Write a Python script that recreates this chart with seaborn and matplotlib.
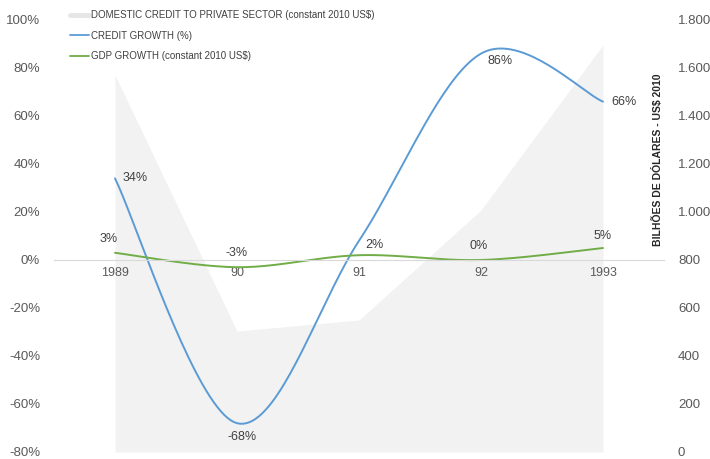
import numpy as np
import matplotlib.pyplot as plt
import seaborn as sns
from matplotlib.lines import Line2D
from matplotlib.ticker import FuncFormatter

# values
years = ["1989", "90", "91", "92", "1993"]
credit_stock = [1571, 504, 550, 1008, 1696]   # bilhões US$ 2010 (right axis)
credit_growth = [34, -68, 8, 86, 66]          # %
gdp_growth = [3, -3, 2, 0, 5]                 # %
credit_labels = ["34%", "-68%", "", "86%", "66%"]
gdp_labels = ["3%", "-3%", "2%", "0%", "5%"]

# label offsets in pixels (dx, dy) relative to each point
credit_off = [(8, 0, "left"), (5, -14, "center"), (0, 0, "center"), (19, -7, "center"), (8, 0, "left")]
gdp_off = [(-6, 14, "center"), (0, 14, "center"), (15, 10, "center"), (-2, 14, "center"), (0, 12, "center")]

BLUE = "#5b9bd5"
GREEN = "#70ad47"
AREA = "#f2f2f2"
TXT = "#595959"


def smooth(y, n=40):
    # excel style smoothed line (bezier through the points)
    x = np.arange(len(y), dtype=float)
    p = np.column_stack([x, np.asarray(y, float)])
    pad = np.vstack([p[0], p, p[-1]])
    t = np.linspace(0, 1, n)[:, None]
    out = []
    for i in range(len(p) - 1):
        p0, p1 = pad[i + 1], pad[i + 2]
        c1 = p0 + (pad[i + 2] - pad[i]) / 6
        c2 = p1 - (pad[i + 3] - pad[i + 1]) / 6
        seg = (1 - t) ** 3 * p0 + 3 * (1 - t) ** 2 * t * c1 + 3 * (1 - t) * t ** 2 * c2 + t ** 3 * p1
        out.append(seg if i == 0 else seg[1:])
    s = np.vstack(out)
    return s[:, 0], s[:, 1]


sns.set_style("white")
plt.rcParams["font.family"] = ["Liberation Sans", "DejaVu Sans"]

fig = plt.figure(figsize=(7.1, 4.59), dpi=100)
ax = fig.add_axes([54 / 710, 1 - 452 / 459, 610 / 710, 432 / 459])
ax2 = ax.twinx()

# area on the right axis, behind the lines
xs = np.arange(len(years))
ax2.fill_between(xs, credit_stock, color=AREA, lw=0)
ax2.set_ylim(0, 1800)
ax2.set_yticks(range(0, 1801, 200))
ax2.yaxis.set_major_formatter(FuncFormatter(lambda v, p: f"{int(v):,}".replace(",", ".")))
ax2.tick_params(axis="y", length=0, pad=10, labelsize=9.5, labelcolor=TXT)
for s in ax2.spines.values():
    s.set_visible(False)

ax.set_zorder(ax2.get_zorder() + 1)
ax.patch.set_visible(False)

cx, cy = smooth(credit_growth)
gx, gy = smooth(gdp_growth)
sns.lineplot(x=cx, y=cy, ax=ax, color=BLUE, lw=1.4, sort=False, estimator=None)
sns.lineplot(x=gx, y=gy, ax=ax, color=GREEN, lw=1.4, sort=False, estimator=None)

ax.set_xlim(-0.5, 4.5)
ax.set_ylim(-80, 100)
ax.set_yticks(range(-80, 101, 20))
ax.yaxis.set_major_formatter(FuncFormatter(lambda v, p: f"{int(v)}%"))
ax.set_xticks(xs)
ax.set_xticklabels(years)
ax.tick_params(axis="y", length=0, pad=10, labelsize=9.5, labelcolor=TXT)
ax.tick_params(axis="x", length=0, pad=5, labelsize=9, labelcolor=TXT)
for s in ["top", "left", "right"]:
    ax.spines[s].set_visible(False)
ax.spines["bottom"].set_position(("data", 0))
ax.spines["bottom"].set_color("#d9d9d9")
ax.spines["bottom"].set_linewidth(0.8)

# data labels
for i, lab in enumerate(credit_labels):
    if lab:
        dx, dy, ha = credit_off[i]
        ax.annotate(lab, (xs[i], credit_growth[i]), xytext=(dx * 0.72, dy * 0.72),
                    textcoords="offset points", ha=ha, va="center", fontsize=9, color="#404040")
for i, lab in enumerate(gdp_labels):
    dx, dy, ha = gdp_off[i]
    ax.annotate(lab, (xs[i], gdp_growth[i]), xytext=(dx * 0.72, dy * 0.72),
                textcoords="offset points", ha=ha, va="center", fontsize=9, color="#404040")

handles = [
    Line2D([], [], color="#e6e6e6", lw=3.5),
    Line2D([], [], color=BLUE, lw=1.3),
    Line2D([], [], color=GREEN, lw=1.3),
]
names = [
    "DOMESTIC CREDIT TO PRIVATE SECTOR (constant 2010 US$)",
    "CREDIT GROWTH (%)",
    "GDP GROWTH (constant 2010 US$)",
]
leg = fig.legend(handles, names, loc="upper left", bbox_to_anchor=(70 / 710, 1 - 10 / 459),
                 frameon=False, fontsize=7, handlelength=2.0, handletextpad=0.15,
                 labelspacing=1.1, borderpad=0, borderaxespad=0)
for t in leg.get_texts():
    t.set_color("#404040")

fig.text(657 / 710, 1 - 160 / 459, "BILHÕES DE DÓLARES - US$ 2010", rotation=90,
         ha="center", va="center", fontsize=7.5, fontweight="bold", color="#262626")

fig.savefig("out.png", dpi=100)
